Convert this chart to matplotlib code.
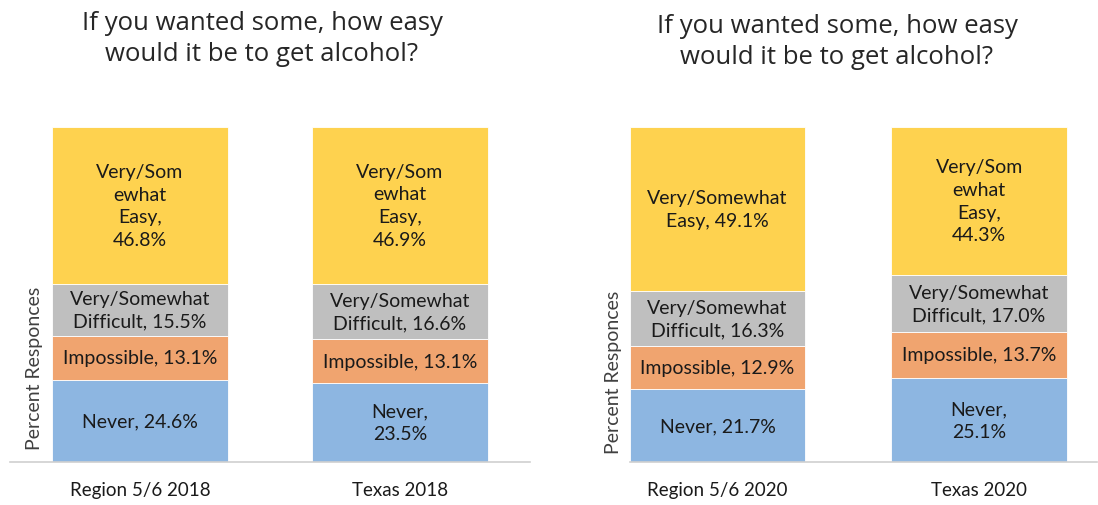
import matplotlib
matplotlib.use("Agg")
import matplotlib.pyplot as plt
import numpy as np

plt.rcParams['font.family'] = ['Lato', 'DejaVu Sans']

'''data'''
title = "If you wanted some, how easy\nwould it be to get alcohol?"
cats_2018 = ["Region 5/6 2018", "Texas 2018"]
cats_2020 = ["Region 5/6 2020", "Texas 2020"]

never_2018 = [24.6, 23.5]
impossible_2018 = [13.1, 13.1]
difficult_2018 = [15.5, 16.6]
easy_2018 = [46.8, 46.9]

never_2020 = [21.7, 25.1]
impossible_2020 = [12.9, 13.7]
difficult_2020 = [16.3, 17.0]
easy_2020 = [49.1, 44.3]

# label text as it wraps in the original
labels_2018 = [
    ["Never, 24.6%", "Never,\n23.5%"],
    ["Impossible, 13.1%", "Impossible, 13.1%"],
    ["Very/Somewhat\nDifficult, 15.5%", "Very/Somewhat\nDifficult, 16.6%"],
    ["Very/Som\newhat\nEasy,\n46.8%", "Very/Som\newhat\nEasy,\n46.9%"],
]
labels_2020 = [
    ["Never, 21.7%", "Never,\n25.1%"],
    ["Impossible, 12.9%", "Impossible, 13.7%"],
    ["Very/Somewhat\nDifficult, 16.3%", "Very/Somewhat\nDifficult, 17.0%"],
    ["Very/Somewhat\nEasy, 49.1%", "Very/Som\newhat\nEasy,\n44.3%"],
]

colors = ["#8DB6E1", "#F0A46F", "#BFBFBF", "#FED24F"]
W, H = 1098, 506

fig = plt.figure(figsize=(W / 100, H / 100), dpi=100)


def panel(rect, cats, series, labels, xlim, width):
    ax = fig.add_axes(rect)
    x = np.arange(len(cats))
    bottom = np.zeros(len(cats))
    for vals, col, labs in zip(series, colors, labels):
        vals = np.array(vals)
        ax.bar(x, vals, width=width, bottom=bottom, color=col, edgecolor='white', linewidth=0.6)
        for xi, b, v, lab in zip(x, bottom, vals, labs):
            ax.text(xi, b + v / 2, lab, ha='center', va='center', fontsize=14,
                    color='#1a1a1a', linespacing=1.4)
        bottom = bottom + vals
    ax.set_xlim(*xlim)
    ax.set_ylim(0, 100)
    ax.set_xticks(x)
    ax.set_xticklabels(cats, fontsize=13.5, color='#1a1a1a')
    ax.tick_params(axis='x', length=0, pad=14)
    ax.set_yticks([])
    for s in ['top', 'right', 'left']:
        ax.spines[s].set_visible(False)
    ax.spines['bottom'].set_color('#D0D0D0')
    ax.spines['bottom'].set_linewidth(1.2)
    return ax


ax1 = panel([10 / W, 43 / H, 520 / W, 335 / H], cats_2018,
            [never_2018, impossible_2018, difficult_2018, easy_2018], labels_2018,
            (-0.5, 1.5), 0.677)
ax2 = panel([630 / W, 43 / H, 467 / W, 335 / H], cats_2020,
            [never_2020, impossible_2020, difficult_2020, easy_2020], labels_2020,
            (-0.335, 1.451), 0.67)

fig.text(262 / W, 1 - 39 / H, title, ha='center', va='center', fontsize=18.5,
         color='#262626', linespacing=1.3, family=['Open Sans', 'DejaVu Sans'])
fig.text(837 / W, 1 - 42 / H, title, ha='center', va='center', fontsize=18.5,
         color='#262626', linespacing=1.3, family=['Open Sans', 'DejaVu Sans'])

fig.text(35 / W, 1 - 368 / H, "Percent Responces", rotation=90, ha='center', va='center',
         fontsize=14, color='#404040')
fig.text(613 / W, 1 - 372 / H, "Percent Responces", rotation=90, ha='center', va='center',
         fontsize=14, color='#404040')

plt.savefig("out.png", dpi=100)
